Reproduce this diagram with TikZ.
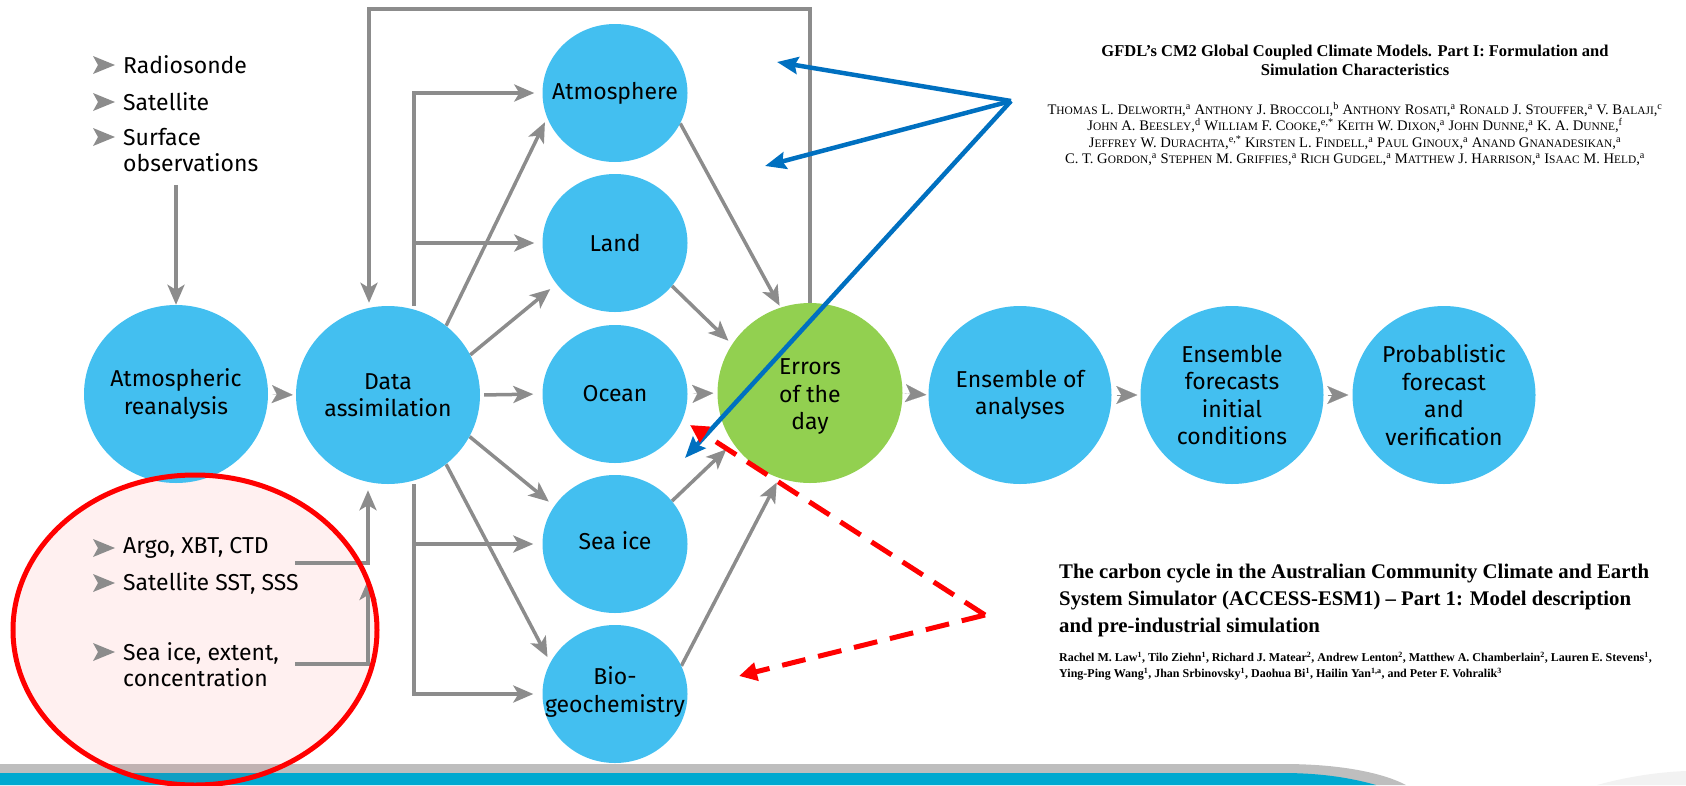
\documentclass[tikz,border=0pt]{standalone}
\usepackage{fontspec}
\setmainfont{Fira Sans}
\newfontfamily\pfont{Liberation Serif}
\usetikzlibrary{arrows.meta,shapes.geometric,calc,backgrounds}

\definecolor{cblue}{HTML}{43BFF0}
\definecolor{cgreen}{HTML}{92D050}
\definecolor{agrey}{HTML}{8C8C8C}
\definecolor{ablue}{HTML}{0070C0}
\definecolor{bandgrey}{HTML}{BEBEBE}
\definecolor{bandcyan}{HTML}{00A9D0}
\definecolor{farright}{HTML}{F2F2F2}

\newcommand\smc[1]{{\fontsize{11.4}{13}\selectfont\MakeUppercase{#1}}}
\newcommand\sps[1]{\textsuperscript{#1}}

\begin{document}
\begin{tikzpicture}[x=1pt,y=-1pt,
 big/.style={ellipse, fill=cblue, minimum width=184pt, minimum height=178pt, inner sep=0pt},
 small/.style={ellipse, fill=cblue, minimum width=145pt, minimum height=138pt, inner sep=0pt},
 ctext/.style={align=center, inner sep=0pt, font=\fontsize{23}{27.5}\selectfont},
 garrow/.style={draw=agrey, line width=3.5pt, -{Stealth[length=20pt,width=17pt,inset=5pt]}},
 stub/.style={draw=agrey, line width=0.1pt, -{Stealth[length=21pt,width=18pt,inset=5pt]}},
 barrow/.style={draw=ablue, line width=4.5pt, -{Stealth[length=21pt,width=17pt,inset=3pt]}},
 rarrow/.style={draw=red, line width=5pt, dash pattern=on 24pt off 13pt, -{Triangle[length=18pt,width=18pt]}},
 listtxt/.style={anchor=west, inner sep=0pt, font=\fontsize{23}{26}\selectfont, align=left},
 paper/.style={inner sep=0pt},
 bul/.pic={\fill[agrey] (0,-9) -- (22,0) -- (0,9) -- (5,0) -- cycle;}
]
\useasboundingbox (0,0) rectangle (1686,785);

% ---------- nodes ----------
\node[big, label={[ctext]center:{Atmospheric\\reanalysis}}] (rean) at (176,394) {};
\node[big, label={[ctext]center:{Data\\assimilation}}] (da) at (388,395) {};
\node[small, label={[ctext]center:{Atmosphere}}] (atm) at (615,93) {};
\node[small, label={[ctext]center:{Land}}] (land) at (615,243) {};
\node[small, label={[ctext]center:{Ocean}}] (ocean) at (615,394) {};
\node[small, label={[ctext, yshift=3pt]center:{Sea ice}}] (seaice) at (615,544) {};
\node[small, label={[ctext, yshift=2pt]center:{Bio-\\geochemistry}}] (bio) at (615,694) {};
\node[big, fill=cgreen, minimum width=185pt, minimum height=180pt, label={[ctext, yshift=-4pt]center:{Errors\\of the\\day}}] (err) at (810,393) {};
\node[big, minimum width=183pt, label={[ctext]center:{Ensemble of\\analyses}}] (ens) at (1020,395) {};
\node[big, minimum width=183pt, label={[ctext]center:{Ensemble\\forecasts\\initial\\conditions}}] (fc) at (1232,395) {};
\node[big, minimum width=183pt, label={[ctext]center:{Probablistic\\forecast\\and\\verification}}] (prob) at (1444,395) {};

% bullet lists
\node[listtxt] (b1) at (123,65) {Radiosonde};
\node[listtxt] (b2) at (123,102) {Satellite};
\node[listtxt] (b3) at (123,150) {Surface\\observations};
\pic at (93,65) {bul};
\pic at (93,102) {bul};
\pic at (93,137) {bul};

\node[listtxt] (b4) at (123,548) {Argo, XBT, CTD};
\node[listtxt] (b5) at (123,583) {Satellite SST, SSS};
\node[listtxt] (b6) at (123,665) {Sea ice, extent,\\concentration};
\pic at (93,548) {bul};
\pic at (93,583) {bul};
\pic at (93,652) {bul};

% paper snippets
\node[paper, align=center, font=\pfont\bfseries\fontsize{16.5}{19}\selectfont] (gt) at (1355,60)
 {GFDL’s CM2 Global Coupled Climate Models. Part I: Formulation and\\Simulation Characteristics};
\node[paper, align=center, font=\pfont\fontsize{14.6}{16.5}\selectfont] (ga) at (1355,134)
 {T\smc{homas} L. D\smc{elworth},\sps{a} A\smc{nthony} J. B\smc{roccoli},\sps{b} A\smc{nthony} R\smc{osati},\sps{a} R\smc{onald} J. S\smc{touffer},\sps{a} V. B\smc{alaji},\sps{c}\\
  J\smc{ohn} A. B\smc{eesley},\sps{d} W\smc{illiam} F. C\smc{ooke},\sps{e,*} K\smc{eith} W. D\smc{ixon},\sps{a} J\smc{ohn} D\smc{unne},\sps{a} K. A. D\smc{unne},\sps{f}\\
  J\smc{effrey} W. D\smc{urachta},\sps{e,*} K\smc{irsten} L. F\smc{indell},\sps{a} P\smc{aul} G\smc{inoux},\sps{a} A\smc{nand} G\smc{nanadesikan},\sps{a}\\
  C. T. G\smc{ordon},\sps{a} S\smc{tephen} M. G\smc{riffies},\sps{a} R\smc{ich} G\smc{udgel},\sps{a} M\smc{atthew} J. H\smc{arrison},\sps{a} I\smc{saac} M. H\smc{eld},\sps{a}};

\node[paper, anchor=west, align=left, font=\pfont\bfseries\fontsize{20.8}{27}\selectfont] (ct) at (1059,600)
 {The carbon cycle in the Australian Community Climate and Earth\\System Simulator (ACCESS-ESM1) – Part 1: Model description\\and pre-industrial simulation};
\node[paper, anchor=west, align=left, font=\pfont\bfseries\fontsize{12}{16}\selectfont] (ca) at (1059,666)
 {Rachel M. Law\sps{1}, Tilo Ziehn\sps{1}, Richard J. Matear\sps{2}, Andrew Lenton\sps{2}, Matthew A. Chamberlain\sps{2}, Lauren E. Stevens\sps{1},\\
  Ying-Ping Wang\sps{1}, Jhan Srbinovsky\sps{1}, Daohua Bi\sps{1}, Hailin Yan\sps{1,a}, and Peter F. Vohralik\sps{3}};

% ---------- coordinates ----------
\coordinate (top) at (0,9);
\coordinate (tu) at ($(da.north)+(26,0)$);
\coordinate (td) at ($(da.south)+(26,0)$);
\coordinate (c1) at (295,563);
\coordinate (c2) at (295,664);
\coordinate (c3) at (368,580);
\coordinate (bsrc) at (1011,101);
\coordinate (bt1) at (777,62);
\coordinate (bt2) at (765,166);
\coordinate (bt3) at (685,458);
\coordinate (rsrc) at (985,615);
\coordinate (rt1) at (690,425);
\coordinate (rt2) at (739,676);

% ---------- background: band, ellipse fill, grey connectors ----------
\begin{scope}[on background layer]
\fill[bandgrey] (0,764) -- (1283,764) .. controls (1345,764) and (1385,774) .. (1406,785) -- (0,785) -- cycle;
\fill[bandcyan] (0,773) -- (1283,773) .. controls (1325,773) and (1355,779) .. (1376,785) -- (0,785) -- cycle;
\fill[farright] (1597,785) .. controls (1630,776) and (1660,772) .. (1686,771) -- (1686,785) -- cycle;
\fill[red, fill opacity=0.06] (195,630) ellipse [x radius=182, y radius=155];

\draw[garrow] (err.north) -- (err.north |- top) -| ($(da.north)+(-19,-3)$);
\draw[garrow, shorten >=8pt] (tu) |- (atm.west);
\draw[garrow, shorten >=8pt] (tu |- land.west) -- (land.west);
\draw[garrow, shorten >=9pt] (td) |- (bio.west);
\draw[garrow, shorten >=9pt] (td |- seaice.west) -- (seaice.west);

\draw[garrow, shorten >=5pt] (da.50) -- (atm.200);
\draw[garrow, shorten >=8pt] (da.26) -- (land.215);
\draw[garrow, shorten <=4pt, shorten >=9pt] (da.east) -- (ocean.west);
\draw[garrow, shorten >=7pt] (da.333) -- (seaice.148);
\draw[garrow, shorten >=6pt] (da.310) -- (bio.154);
\draw[garrow, shorten >=2pt] (atm.335) -- (err.109);
\draw[garrow, shorten >=5pt] (land.323) -- (err.148);
\draw[garrow, shorten >=9pt] (seaice.37) -- (err.213);
\draw[garrow, shorten >=5pt] (bio.23) -- (err.250);

\draw[stub, shorten <=4pt, shorten >=3pt] (rean.east) -- (da.west);
\draw[stub, shorten <=5pt, shorten >=4pt] (ocean.east) -- (err.west);
\draw[stub, shorten <=1pt, shorten >=2pt] (err.east) -- (ens.west);
\draw[stub, shorten <=5pt, shorten >=3pt] (ens.east) -- (fc.west);
\draw[stub, shorten <=4pt, shorten >=4pt] (fc.east) -- (prob.west);

\draw[garrow] ($(rean.north |- b3.south)+(0,13)$) -- (rean.north);
\draw[garrow, shorten >=6pt] (c1) -| ($(da.south)+(-20,0)$);
\draw[garrow] (c2) -| (c3);
\end{scope}

% ---------- foreground ----------
\draw[red, line width=5pt] (195,630) ellipse [x radius=182, y radius=155];
\draw[barrow] (bsrc) -- (bt1);
\draw[barrow] (bsrc) -- (bt2);
\draw[barrow] (bsrc) -- (bt3);
\draw[rarrow] (rsrc) -- (rt1);
\draw[rarrow] (rsrc) -- (rt2);
\end{tikzpicture}
\end{document}
